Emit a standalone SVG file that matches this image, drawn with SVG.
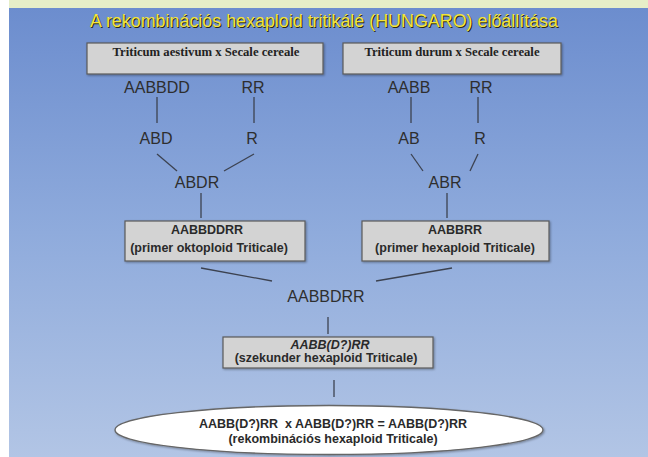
<svg xmlns="http://www.w3.org/2000/svg" width="648" height="457" viewBox="0 0 648 457">
<defs>
<linearGradient id="bg" x1="0" y1="0" x2="0" y2="1">
<stop offset="0" stop-color="#6c8dce"/>
<stop offset="0.5" stop-color="#8fabdc"/>
<stop offset="1" stop-color="#b2c5e5"/>
</linearGradient>
<filter id="sh" x="-10%" y="-10%" width="120%" height="130%">
<feDropShadow dx="1" dy="1" stdDeviation="0.8" flood-color="#000" flood-opacity="0.35"/>
</filter>
<style>
.box{fill:#d3d3d3;stroke:#5a5a5a;stroke-width:1.2;filter:url(#sh)}
.serif{font-family:"Liberation Serif","Times New Roman",serif;font-weight:bold;font-size:11.5px;fill:#222;text-anchor:middle}
.g{font-family:"Liberation Sans",Arial,sans-serif;font-size:16px;fill:#2e2e2e;text-anchor:middle}
.b{font-family:"Liberation Sans",Arial,sans-serif;font-size:12.5px;font-weight:bold;fill:#2a2a2a;text-anchor:middle}
.ln{stroke:#3c4250;stroke-width:1.3;fill:none}
.title{font-family:"Liberation Sans",Arial,sans-serif;font-size:17.5px;fill:#f3e43a;text-anchor:middle}
</style>
</defs>
<rect x="0" y="0" width="648" height="457" fill="#ffffff"/>
<rect x="9" y="8" width="639" height="449" fill="url(#bg)"/>
<rect x="9" y="0" width="639" height="8" fill="#e6eec8"/>
<text class="title" x="325" y="28" textLength="468" lengthAdjust="spacingAndGlyphs" style="fill:#2a2a10">A rekombinációs hexaploid tritikálé (HUNGARO) előállítása</text>
<text class="title" x="324" y="27" textLength="468" lengthAdjust="spacingAndGlyphs">A rekombinációs hexaploid tritikálé (HUNGARO) előállítása</text>

<g id="connectors">
<line class="ln" x1="157" y1="97" x2="157" y2="123"/>
<line class="ln" x1="254" y1="97" x2="254" y2="123"/>
<line class="ln" x1="157" y1="154" x2="177" y2="171"/>
<line class="ln" x1="254" y1="154" x2="224" y2="171"/>
<line class="ln" x1="201" y1="193" x2="201" y2="218"/>
<line class="ln" x1="411" y1="97" x2="411" y2="123"/>
<line class="ln" x1="478" y1="97" x2="478" y2="123"/>
<line class="ln" x1="411" y1="154" x2="423" y2="171"/>
<line class="ln" x1="478" y1="154" x2="470" y2="171"/>
<line class="ln" x1="447" y1="193" x2="447" y2="218"/>
<line class="ln" x1="201" y1="268" x2="272" y2="281"/>
<line class="ln" x1="452" y1="268" x2="376" y2="281"/>
<line class="ln" x1="328" y1="317" x2="328" y2="334"/>
<line class="ln" x1="334" y1="380" x2="334" y2="397"/>
</g>

<g id="box-aestivum">
<rect class="box" x="87" y="43" width="236" height="31"/>
<text class="serif" x="206" y="56" textLength="187" lengthAdjust="spacingAndGlyphs">Triticum aestivum x Secale cereale</text>
</g>
<g id="box-durum">
<rect class="box" x="343" y="43" width="218" height="31"/>
<text class="serif" x="452" y="56" textLength="175" lengthAdjust="spacingAndGlyphs">Triticum durum x Secale cereale</text>
</g>
<g id="n-AABBDD"><text class="g" x="157" y="93">AABBDD</text></g>
<g id="n-RR1"><text class="g" x="253" y="93">RR</text></g>
<g id="n-ABD"><text class="g" x="156" y="144">ABD</text></g>
<g id="n-R1"><text class="g" x="252" y="144">R</text></g>
<g id="n-ABDR"><text class="g" x="197" y="188">ABDR</text></g>
<g id="n-AABB"><text class="g" x="409" y="93">AABB</text></g>
<g id="n-RR2"><text class="g" x="481" y="93">RR</text></g>
<g id="n-AB"><text class="g" x="409" y="144">AB</text></g>
<g id="n-R2"><text class="g" x="480" y="144">R</text></g>
<g id="n-ABR"><text class="g" x="445" y="188">ABR</text></g>

<g id="box-oktoploid">
<rect class="box" x="125" y="221" width="180" height="40"/>
<text class="b" x="207" y="234">AABBDDRR</text>
<text class="b" x="209" y="252">(primer oktoploid Triticale)</text>
</g>
<g id="box-hexaploid">
<rect class="box" x="362" y="221" width="187" height="40"/>
<text class="b" x="455" y="234">AABBRR</text>
<text class="b" x="455" y="252">(primer hexaploid Triticale)</text>
</g>
<g id="n-AABBDRR"><text class="g" x="326" y="302">AABBDRR</text></g>

<g id="box-szekunder">
<rect class="box" x="223" y="337" width="210" height="31"/>
<text class="b" x="330" y="349" font-style="italic">AABB(D?)RR</text>
<text class="b" x="326" y="362">(szekunder hexaploid Triticale)</text>
</g>

<g id="ellipse-rekomb">
<ellipse cx="329" cy="430" rx="214" ry="24.5" fill="#ffffff" stroke="#666" stroke-width="1.3" filter="url(#sh)"/>
<text class="b" x="333" y="428" xml:space="preserve">AABB(D?)RR  x AABB(D?)RR = AABB(D?)RR</text>
<text class="b" x="333" y="443">(rekombinációs hexaploid Triticale)</text>
</g>
</svg>
